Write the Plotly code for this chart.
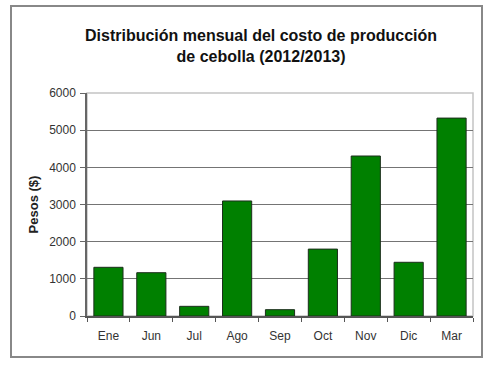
import plotly.graph_objects as go

months = ["Ene", "Jun", "Jul", "Ago", "Sep", "Oct", "Nov", "Dic", "Mar"]
costs = [1310, 1165, 260, 3095, 170, 1800, 4305, 1445, 5325]
y_ticks = [0, 1000, 2000, 3000, 4000, 5000, 6000]

FONT = "Liberation Sans, Arial, sans-serif"

fig = go.Figure()
fig.add_trace(go.Bar(
    x=months, y=costs,
    marker=dict(color="#008000", line=dict(color="#1c2e1c", width=1)),
    width=0.68,
))

fig.update_layout(
    width=501, height=373,
    margin=dict(l=87, r=28, t=93, b=57),
    paper_bgcolor="white", plot_bgcolor="white",
    showlegend=False,
    font=dict(family=FONT, size=12, color="#333333"),
    title=dict(
        text="<b>Distribución mensual del costo de producción<br>de cebolla (2012/2013)</b>",
        x=0.521, xanchor="center", xref="container",
        yref="container", y=1 - 41 / 373, yanchor="middle",
        font=dict(family=FONT, size=16, color="#111111"),
    ),
    xaxis=dict(
        showline=True, linecolor="#555555", linewidth=1.5,
        ticks="outside", tickson="boundaries", ticklen=4, tickcolor="#555555",
        tickfont=dict(family=FONT, size=12, color="#333333"),
        ticklabelstandoff=8,
        showgrid=False,
    ),
    yaxis=dict(
        range=[0, 6000], tickvals=y_ticks,
        showline=True, linecolor="#666666", linewidth=1.5,
        ticks="outside", ticklen=5, tickcolor="#666666",
        ticklabelstandoff=2,
        showgrid=True, gridcolor="#747474", gridwidth=1.3,
        zeroline=False,
        tickfont=dict(family=FONT, size=12, color="#333333"),
        title=dict(text="<b>Pesos ($)</b>", font=dict(family=FONT, size=13, color="#222222"), standoff=8),
    ),
    shapes=[
        dict(type="rect", xref="x domain", yref="y domain", x0=0, x1=1, y0=0, y1=1,
             line=dict(color="#c4c4c4", width=1.5), layer="below"),
        dict(type="rect", xref="paper", yref="paper",
             x0=-76 / 386, x1=1 + 9 / 386, y0=-41 / 223, y1=1 + 87 / 223,
             line=dict(color="#888888", width=2)),
    ],
)

fig.write_html("out.html", config={"displayModeBar": False},
               post_script="document.body.style.margin='0';")
